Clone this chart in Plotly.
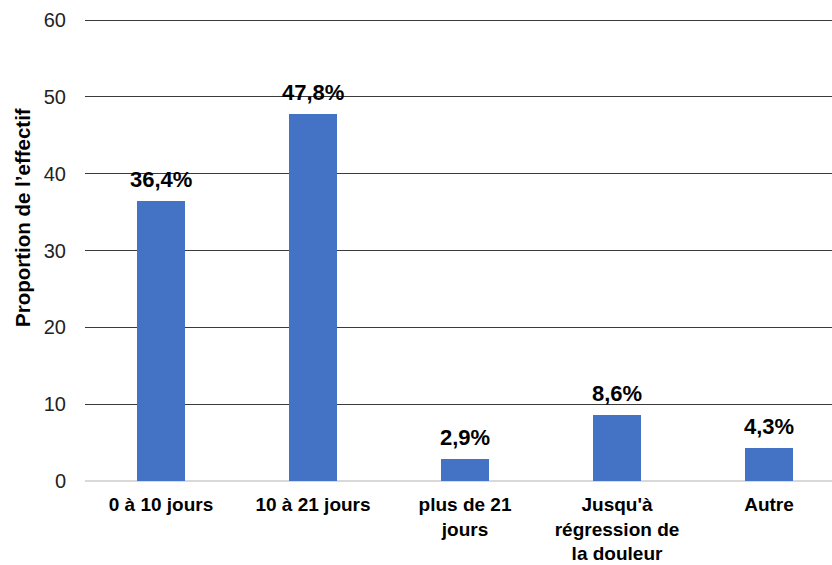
import plotly.graph_objects as go

categories = ["0 à 10 jours", "10 à 21 jours", "plus de 21<br>jours",
              "Jusqu'à<br>régression de<br>la douleur", "Autre"]
values = [36.4, 47.8, 2.9, 8.6, 4.3]
y_ticks = [0, 10, 20, 30, 40, 50, 60]
y_title = "Proportion de l’effectif"

labels = [f"{v:.1f}".replace(".", ",") + "%" for v in values]
xs = list(range(len(categories)))

FONT = "Liberation Sans, Arial, sans-serif"

fig = go.Figure()
fig.add_trace(go.Bar(
    x=xs, y=values, width=0.315,
    marker=dict(color="#4472C4", line=dict(width=0)),
    hoverinfo="skip",
))

for x, v, t in zip(xs, values, labels):
    fig.add_annotation(x=x, y=v, text=f"<b>{t}</b>", showarrow=False,
                       xref="x", yref="y", yanchor="bottom", yshift=7,
                       font=dict(family=FONT, size=22, color="#000000"))

fig.add_annotation(x=-0.083, y=0.569, xref="paper", yref="paper",
                   text=f"<b>{y_title}</b>", textangle=-90, showarrow=False,
                   xanchor="center", yanchor="middle",
                   font=dict(family=FONT, size=20.5, color="#000000"))

fig.update_layout(
    width=832, height=565,
    margin=dict(l=85, r=0, t=17, b=84),
    paper_bgcolor="white", plot_bgcolor="white",
    showlegend=False,
    bargap=0,
    font=dict(family=FONT),
)
fig.update_xaxes(
    tickmode="array", tickvals=xs,
    ticktext=[f"<b>{c}</b>" for c in categories],
    range=[-0.5, -0.5 + 747 / 152],
    showgrid=False, showline=False, zeroline=False, ticks="",
    tickfont=dict(family=FONT, size=19, color="#000000"),
    ticklabelstandoff=10,
    automargin=False,
)
fig.update_yaxes(
    range=[0, 60.4], tickvals=y_ticks,
    showgrid=True, gridcolor="#3a3a3a", gridwidth=1,
    zeroline=True, zerolinecolor="#d9d9d9", zerolinewidth=1.5,
    showline=False, ticks="",
    tickfont=dict(family=FONT, size=20, color="#222222"),
    ticklabelstandoff=18,
    automargin=False,
)

fig.write_html("out.html", config={"displayModeBar": False},
               post_script="document.body.style.margin='0';")
